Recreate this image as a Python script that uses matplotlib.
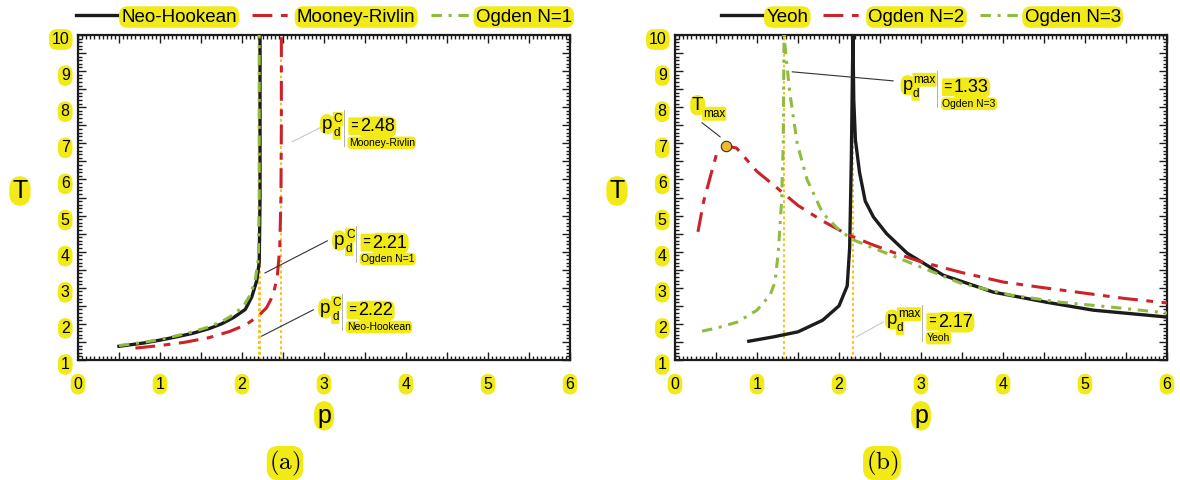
import numpy as np
import matplotlib
matplotlib.use("Agg")
import matplotlib.pyplot as plt
from matplotlib.ticker import MultipleLocator, FuncFormatter
import matplotlib.transforms as mtransforms

plt.rcParams['font.family'] = ['Liberation Sans', 'DejaVu Sans']
plt.rcParams['mathtext.fontset'] = 'cm'

# ---------------- data ----------------
# (a) critical stretch curves
nh_p = [0.50, 0.80, 1.00, 1.20, 1.40, 1.60, 1.75, 1.90, 2.04, 2.12, 2.18, 2.21, 2.22, 2.22]
nh_T = [1.38, 1.47, 1.55, 1.64, 1.74, 1.87, 2.00, 2.18, 2.40, 2.75, 3.20, 3.70, 5.50, 10.0]

mr_p = [0.70, 1.00, 1.30, 1.60, 1.85, 2.05, 2.20, 2.30, 2.38, 2.43, 2.46, 2.475, 2.48, 2.48]
mr_T = [1.33, 1.40, 1.49, 1.62, 1.79, 1.98, 2.22, 2.45, 2.80, 3.30, 4.10, 5.50, 7.50, 10.0]

og1_p = [0.50, 0.80, 1.00, 1.20, 1.40, 1.60, 1.75, 1.90, 2.02, 2.10, 2.16, 2.20, 2.21, 2.21]
og1_T = [1.40, 1.49, 1.57, 1.67, 1.78, 1.92, 2.06, 2.26, 2.50, 2.80, 3.20, 3.80, 5.50, 10.0]

# (b)
yeoh_p = [0.90, 1.20, 1.50, 1.80, 2.00, 2.10, 2.13, 2.15, 2.17, 2.18, 2.20, 2.25, 2.32,
          2.42, 2.58, 2.83, 3.27, 3.88, 4.53, 5.10, 6.00]
yeoh_T = [1.52, 1.64, 1.78, 2.10, 2.50, 3.05, 4.10, 6.50, 10.0, 8.20, 7.10, 6.20, 5.40,
          4.96, 4.50, 3.96, 3.35, 2.88, 2.60, 2.38, 2.19]

og2_p = [0.28, 0.35, 0.43, 0.51, 0.62, 0.75, 1.00, 1.20, 1.50, 1.80, 2.10, 2.40, 2.70,
         3.00, 3.50, 4.00, 4.50, 5.00, 5.50, 6.00]
og2_T = [4.55, 5.40, 6.07, 6.73, 6.93, 6.87, 6.22, 5.85, 5.28, 4.85, 4.48, 4.20, 3.95,
         3.72, 3.42, 3.16, 3.00, 2.85, 2.70, 2.58]

og3_p = [0.33, 0.50, 0.76, 1.00, 1.16, 1.22, 1.26, 1.30, 1.32, 1.33, 1.35, 1.40, 1.49,
         1.61, 1.80, 2.00, 2.17, 2.42, 2.87, 3.48, 4.09, 4.70, 5.30, 6.00]
og3_T = [1.80, 1.88, 2.05, 2.38, 2.80, 3.16, 4.00, 5.40, 7.00, 10.0, 9.50, 8.40, 7.00,
         6.00, 5.07, 4.60, 4.33, 4.10, 3.69, 3.13, 2.80, 2.60, 2.47, 2.30]

# critical values
crit_a_names = ['Mooney-Rivlin', 'Ogden N=1', 'Neo-Hookean']
crit_a_vals = [2.48, 2.21, 2.22]
crit_b_names = ['Ogden N=3', 'Yeoh']
crit_b_vals = [1.33, 2.17]

# ---------------- style ----------------
HL = '#f2ea17'
BLACK = '#1c1c1c'
RED = '#cc2229'
GREEN = '#8fbc3f'
DOT = '#f7c21b'

RED_LS = (0, (6.5, 2.8, 2.2, 2.8))
GREEN_LS = (0, (3.4, 2.2, 1.0, 2.2))


def hbox(pad=0.12, r=None):
    style = f'round,pad={pad}'
    if r is not None:
        style += f',rounding_size={r}'
    return dict(boxstyle=style, fc=HL, ec='none')


fig = plt.figure(figsize=(11.8, 4.8), dpi=100)
W, H = 1180.0, 480.0
axA = fig.add_axes([78 / W, 120 / H, 492 / W, 325 / H])
axB = fig.add_axes([675 / W, 120 / H, 492 / W, 325 / H])


def int_only(v, pos):
    return f'{v:.0f}' if abs(v - round(v)) < 1e-6 else ''


def style_axes(ax):
    ax.set_xlim(0, 6)
    ax.set_ylim(1, 10)
    ax.xaxis.set_major_locator(MultipleLocator(0.5))
    ax.xaxis.set_minor_locator(MultipleLocator(0.05))
    ax.yaxis.set_major_locator(MultipleLocator(0.5))
    ax.yaxis.set_minor_locator(MultipleLocator(0.1))
    ax.xaxis.set_major_formatter(FuncFormatter(int_only))
    ax.yaxis.set_major_formatter(FuncFormatter(int_only))
    ax.tick_params(which='both', direction='in', top=True, right=True,
                   width=1.0, color=BLACK)
    ax.tick_params(which='major', length=6)
    ax.tick_params(which='minor', length=3)
    ax.tick_params(axis='x', which='major', pad=12, labelsize=11.5)
    ax.tick_params(axis='y', which='major', pad=6, labelsize=11.5)
    for s in ax.spines.values():
        s.set_linewidth(1.6)
        s.set_color(BLACK)
    ax.set_xlabel('p', fontsize=18, bbox=hbox(0.12, 0.5))
    ax.xaxis.set_label_coords(0.5, -0.135)
    ax.set_ylabel('T', fontsize=18, rotation=0, va='center', ha='center',
                  bbox=hbox(0.12, 0.5))
    ax.yaxis.set_label_coords(-0.118, 0.52)


def pix_to_data(ax, x, y, dx, dy):
    X, Y = ax.transData.transform((x, y))
    return ax.transData.inverted().transform((X + dx, Y + dy))


def crit_label(ax, x, y, sup, value, name, leader, leader_color, wide=False):
    """Label p_d^sup = value / name with a separator line at (x, y)."""
    kw = dict(xycoords='data', textcoords='offset pixels', va='baseline', ha='left')
    if wide:
        p_dx, s_dx, d_dx = -35, -24, -25
    else:
        p_dx, s_dx, d_dx = -22, -10, -10
    ax.annotate('p', (x, y), xytext=(p_dx, -1), fontsize=13.5, bbox=hbox(0.1, 0.45), **kw)
    ax.annotate(sup, (x, y), xytext=(s_dx, 6), fontsize=8.5, bbox=hbox(0.08), **kw)
    ax.annotate('d', (x, y), xytext=(d_dx, -8), fontsize=8.5, bbox=hbox(0.08), **kw)
    ax.annotate('=', (x, y), xytext=(6, -3), fontsize=12.5, bbox=hbox(0.08), **kw)
    ax.annotate(value, (x, y), xytext=(16, -3.5), fontsize=13, bbox=hbox(0.1, 0.4), **kw)
    ax.annotate(name, (x, y), xytext=(5, -18), fontsize=7.5, bbox=hbox(0.12, 0.4), **kw)
    top = pix_to_data(ax, x, y, 0, 18)
    bot = pix_to_data(ax, x, y, 0, -18)
    ax.plot([top[0], bot[0]], [top[1], bot[1]], color='#b0b0b0', lw=0.7, zorder=4)
    (x0, y0), (x1, y1) = leader
    ax.plot([x0, x1], [y0, y1], color=leader_color, lw=0.8, zorder=4)


# ---------------- panel (a) ----------------
style_axes(axA)
for v in crit_a_vals:
    axA.axvline(v, color=DOT, lw=1.5, ls=(0, (1.3, 1.3)), zorder=1)
axA.plot(nh_p, nh_T, color=BLACK, lw=2.4, label='Neo-Hookean', zorder=2)
axA.plot(mr_p, mr_T, color=RED, lw=2.2, ls=RED_LS, label='Mooney-Rivlin', zorder=3)
axA.plot(og1_p, og1_T, color=GREEN, lw=2.2, ls=GREEN_LS, label='Ogden N=1', zorder=3)

crit_label(axA, 3.24, 7.43, 'C', f'{crit_a_vals[0]:.2f}', crit_a_names[0],
           ((2.61, 7.04), (2.95, 7.43)), '#c8c8c8')
crit_label(axA, 3.39, 4.21, 'C', f'{crit_a_vals[1]:.2f}', crit_a_names[1],
           ((2.28, 3.41), (3.04, 4.30)), '#333333')
crit_label(axA, 3.22, 2.33, 'C', f'{crit_a_vals[2]:.2f}', crit_a_names[2],
           ((2.24, 1.66), (2.87, 2.39)), '#333333')

# ---------------- panel (b) ----------------
style_axes(axB)
for v in crit_b_vals:
    axB.axvline(v, color=DOT, lw=1.5, ls=(0, (1.3, 1.3)), zorder=1)
axB.plot(yeoh_p, yeoh_T, color=BLACK, lw=2.4, label='Yeoh', zorder=2)
axB.plot(og2_p, og2_T, color=RED, lw=2.2, ls=RED_LS, label='Ogden N=2', zorder=3)
axB.plot(og3_p, og3_T, color=GREEN, lw=2.2, ls=GREEN_LS, label='Ogden N=3', zorder=3)

crit_label(axB, 3.20, 8.51, 'max', f'{crit_b_vals[0]:.2f}', crit_b_names[0],
           ((1.43, 8.98), (2.66, 8.73)), '#333333', wide=True)
crit_label(axB, 3.01, 2.02, 'max', f'{crit_b_vals[1]:.2f}', crit_b_names[1],
           ((2.21, 1.64), (2.54, 2.05)), '#c8c8c8', wide=True)

# maximum of the Ogden N=2 curve
imax = int(np.argmax(og2_T))
axB.plot(og2_p[imax], og2_T[imax], 'o', ms=7.5, mfc='#f4b82e', mec='#333333',
         mew=0.8, zorder=6)
axB.plot([0.33, 0.55], [7.57, 7.18], color='#333333', lw=0.8, zorder=4)
kw = dict(xycoords='data', textcoords='offset pixels', va='baseline', ha='left')
axB.annotate('T', (0.33, 7.57), xytext=(-10, 13), fontsize=13.5, bbox=hbox(0.1, 0.45), **kw)
axB.annotate('max', (0.33, 7.57), xytext=(1, 6), fontsize=8.5, bbox=hbox(0.08), **kw)

# ---------------- legends ----------------
for ax in (axA, axB):
    leg = ax.legend(loc='center', bbox_to_anchor=(0.5, 1 + 18 / 325), ncol=3,
                    frameon=False, fontsize=13.5, handlelength=2.2,
                    handletextpad=0.2, columnspacing=0.8, borderaxespad=0)
    for t in leg.get_texts():
        t.set_bbox(hbox(0.12, 0.45))

# ---------------- captions ----------------
fig.text(285 / W, 1 - 463 / H, r'$\mathrm{(a)}$', fontsize=18, ha='center', va='center',
         bbox=hbox(0.1, 0.45))
fig.text(882 / W, 1 - 463 / H, r'$\mathrm{(b)}$', fontsize=18, ha='center', va='center',
         bbox=hbox(0.1, 0.45))

# tick label highlights
fig.canvas.draw()
shift = mtransforms.ScaledTranslation(0, -3 / 100, fig.dpi_scale_trans)
for ax in (axA, axB):
    for t in ax.get_xticklabels():
        t.set_bbox(hbox(0.18, 0.5))
    for tick in ax.yaxis.get_major_ticks():
        tick.label1.set_bbox(hbox(0.18, 0.5))
        tick.label1.set_transform(tick.label1.get_transform() + shift)

fig.savefig('out.png', dpi=100)
